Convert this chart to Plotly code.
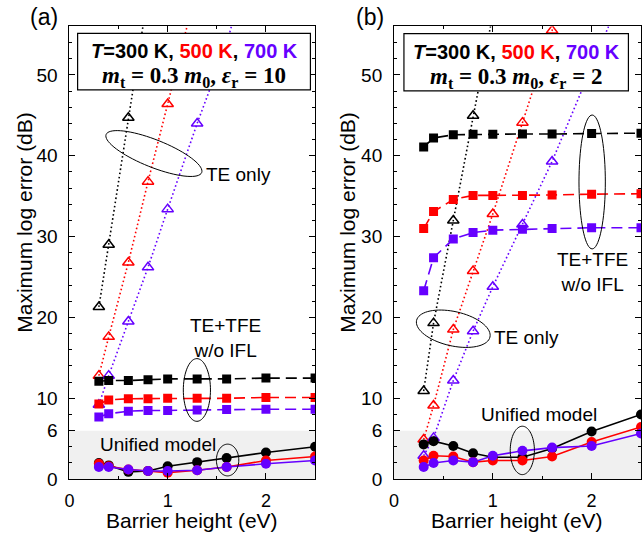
import math
import plotly.graph_objects as go

# ---------------- data ----------------
barrier = [0.3, 0.4, 0.6, 0.8, 1.0, 1.3, 1.6, 2.0, 2.5]

# panel (a): m_t = 0.3 m0, eps_r = 10
a_te_300_x = [0.3, 0.4, 0.6, 0.8]
a_te_300 = [21.3, 29.0, 44.7, 60.0]
a_te_500_x = [0.3, 0.4, 0.6, 0.8, 1.0, 1.3]
a_te_500 = [12.8, 17.6, 26.8, 36.8, 46.4, 61.0]
a_te_700_x = [0.3, 0.4, 0.6, 0.8, 1.0, 1.3, 1.6, 2.0]
a_te_700 = [9.2, 12.8, 19.5, 26.2, 33.4, 44.0, 53.8, 72.0]
a_tfe_300 = [12.1, 12.2, 12.2, 12.3, 12.4, 12.4, 12.4, 12.5, 12.5]
a_tfe_500 = [9.3, 9.8, 9.95, 9.95, 10.0, 10.0, 10.0, 10.1, 10.1]
a_tfe_700 = [7.7, 8.1, 8.4, 8.5, 8.5, 8.55, 8.6, 8.65, 8.65]
a_uni_300 = [2.0, 1.7, 0.9, 1.0, 1.6, 2.1, 2.6, 3.3, 4.0]
a_uni_500 = [1.9, 1.6, 1.2, 1.0, 0.8, 1.1, 1.5, 2.3, 2.8]
a_uni_700 = [1.5, 1.5, 1.2, 1.0, 1.0, 1.1, 1.5, 1.9, 2.3]

# panel (b): m_t = 0.3 m0, eps_r = 2
b_te_300_x = [0.3, 0.4, 0.6, 0.8, 1.0]
b_te_300 = [10.9, 19.3, 32.0, 44.95, 57.5]
b_te_500_x = [0.3, 0.4, 0.6, 0.8, 1.0, 1.3, 1.6, 2.0]
b_te_500 = [4.9, 9.1, 18.5, 25.75, 32.8, 44.1, 55.5, 75.0]
b_te_700_x = [0.3, 0.4, 0.6, 0.8, 1.0, 1.3, 1.6, 2.0, 2.5]
b_te_700 = [2.9, 5.1, 12.2, 18.3, 23.8, 31.5, 39.3, 51.0, 65.6]
b_tfe_300 = [41.1, 42.2, 42.6, 42.65, 42.65, 42.7, 42.7, 42.75, 42.8]
b_tfe_500 = [31.0, 33.1, 34.6, 35.1, 35.1, 35.1, 35.15, 35.25, 35.3]
b_tfe_700 = [23.3, 27.4, 29.7, 30.5, 30.8, 30.9, 31.0, 31.1, 31.1]
b_uni_300 = [4.3, 4.7, 4.1, 3.2, 2.7, 2.7, 3.8, 5.9, 8.0]
b_uni_500 = [2.3, 2.9, 2.8, 2.1, 2.3, 2.3, 2.8, 4.6, 6.45]
b_uni_700 = [1.5, 2.0, 2.3, 2.1, 2.9, 3.5, 3.9, 4.1, 5.65]

y_tickvals = [0, 6, 10, 20, 30, 40, 50]
x_tickvals = [0, 1, 2]

# ---------------- style ----------------
W, H = 642, 545
BLACK, RED, PURPLE = "#000000", "#FF0000", "#6600FF"
FONT = "Arial, Liberation Sans, sans-serif"
SERIF = "Liberation Serif, DejaVu Serif, serif"
AX = {"a": (65.0, 313.0), "b": (392.7, 642.0)}
Y_PX = (489.0, 27.0)
XR = (0.0, 2.5)
YR = (0.0, 56.0)


def px2data(panel, px, py):
    x0, x1 = AX[panel]
    x = XR[0] + (px - x0) / (x1 - x0) * (XR[1] - XR[0])
    y = YR[0] + (Y_PX[0] - py) / (Y_PX[0] - Y_PX[1]) * (YR[1] - YR[0])
    return x, y


def ellipse_path(panel, cx, cy, a, b, theta_deg=0.0, n=72):
    th = math.radians(theta_deg)
    pts = []
    for i in range(n):
        t = 2 * math.pi * i / n
        ex, ey = a * math.cos(t), b * math.sin(t)
        px = cx + ex * math.cos(th) - ey * math.sin(th)
        py = cy + ex * math.sin(th) + ey * math.cos(th)
        pts.append(px2data(panel, px, py))
    return "M " + " L ".join(f"{x:.5f},{y:.5f}" for x, y in pts) + " Z"


fig = go.Figure()


def add(xs, ys, color, kind, xa, ya):
    if kind == "te":
        fig.add_trace(go.Scatter(
            x=xs, y=ys, xaxis=xa, yaxis=ya, mode="lines+markers",
            line=dict(color=color, width=1.6, dash="1.6px,2.6px"),
            marker=dict(symbol="triangle-up-open", size=10, color=color,
                        line=dict(width=1.5, color=color)),
            cliponaxis=True, showlegend=False))
    elif kind == "tfe":
        fig.add_trace(go.Scatter(
            x=xs, y=ys, xaxis=xa, yaxis=ya, mode="lines+markers",
            line=dict(color=color, width=1.6, dash="11px,6px"),
            marker=dict(symbol="square", size=9, color=color),
            showlegend=False))
    else:
        fig.add_trace(go.Scatter(
            x=xs, y=ys, xaxis=xa, yaxis=ya, mode="lines+markers",
            line=dict(color=color, width=1.6),
            marker=dict(symbol="circle", size=10, color=color),
            showlegend=False))


# panel a
add(a_te_300_x, a_te_300, BLACK, "te", "x", "y")
add(a_te_500_x, a_te_500, RED, "te", "x", "y")
add(a_te_700_x, a_te_700, PURPLE, "te", "x", "y")
add(barrier, a_tfe_300, BLACK, "tfe", "x", "y")
add(barrier, a_tfe_500, RED, "tfe", "x", "y")
add(barrier, a_tfe_700, PURPLE, "tfe", "x", "y")
add(barrier, a_uni_300, BLACK, "uni", "x", "y")
add(barrier, a_uni_500, RED, "uni", "x", "y")
add(barrier, a_uni_700, PURPLE, "uni", "x", "y")
# panel b
add(b_te_300_x, b_te_300, BLACK, "te", "x2", "y2")
add(b_te_500_x, b_te_500, RED, "te", "x2", "y2")
add(b_te_700_x, b_te_700, PURPLE, "te", "x2", "y2")
add(barrier, b_tfe_300, BLACK, "tfe", "x2", "y2")
add(barrier, b_tfe_500, RED, "tfe", "x2", "y2")
add(barrier, b_tfe_700, PURPLE, "tfe", "x2", "y2")
add(barrier, b_uni_300, BLACK, "uni", "x2", "y2")
add(barrier, b_uni_500, RED, "uni", "x2", "y2")
add(barrier, b_uni_700, PURPLE, "uni", "x2", "y2")

y_minor = [v for v in range(2, 56, 2) if v not in y_tickvals]
x_minor = [0.5, 1.5, 2.5]

axis_common = dict(showline=True, linecolor="black", linewidth=1, mirror="allticks",
                   ticks="inside", ticklen=6, tickwidth=1, tickcolor="black",
                   showgrid=False, zeroline=False,
                   tickfont=dict(family=FONT, size=18, color="black"))
xcommon = dict(axis_common, range=list(XR), tickvals=x_tickvals,
               ticktext=[str(v) for v in x_tickvals], ticklabelstandoff=5,
               minor=dict(tickvals=x_minor, ticks="inside", ticklen=3, tickcolor="black", showgrid=False))
ycommon = dict(axis_common, range=list(YR), tickvals=y_tickvals,
               ticktext=[str(v) for v in y_tickvals], ticklabelstandoff=7,
               tickfont=dict(family=FONT, size=19, color="black"),
               minor=dict(tickvals=y_minor, ticks="inside", ticklen=3, tickcolor="black", showgrid=False))

ydom = [1 - Y_PX[0] / H, 1 - Y_PX[1] / H]
fig.update_layout(
    width=W, height=H, margin=dict(l=0, r=0, t=0, b=0),
    paper_bgcolor="white", plot_bgcolor="white",
    xaxis=dict(xcommon, domain=[AX["a"][0] / W, AX["a"][1] / W], anchor="y"),
    yaxis=dict(ycommon, domain=ydom, anchor="x"),
    xaxis2=dict(xcommon, domain=[AX["b"][0] / W, min(1.0, AX["b"][1] / W)], anchor="y2"),
    yaxis2=dict(ycommon, domain=ydom, anchor="x2"),
)

shapes = []
# gray band 0..6
for xr, yr in (("x", "y"), ("x2", "y2")):
    shapes.append(dict(type="rect", xref=f"{xr} domain", yref=yr, x0=0, x1=1, y0=0, y1=6,
                       fillcolor="#F0F0F0", line=dict(width=0), layer="below"))

# ellipses
ell = [
    ("a", 150.3, 156.7, 52, 14, 22, "x", "y"),
    ("a", 193.7, 398.0, 13.7, 32, 0, "x", "y"),
    ("a", 224.7, 469.5, 11.3, 16.2, 0, "x", "y"),
    ("b", 592.7, 185.7, 13.3, 68.3, 0, "x2", "y2"),
    ("b", 452.5, 335.5, 38, 17.5, 13, "x2", "y2"),
    ("b", 522.2, 459.7, 12.2, 24.7, 0, "x2", "y2"),
]
for panel, cx, cy, a, b, th, xr, yr in ell:
    shapes.append(dict(type="path", xref=xr, yref=yr, path=ellipse_path(panel, cx, cy, a, b, th),
                       line=dict(color="black", width=1), layer="above"))

# info boxes
for x0, x1, y0, y1 in ((73.3, 308.3, 34.0, 91.7), (402.7, 629.3, 34.3, 92.7)):
    shapes.append(dict(type="rect", xref="paper", yref="paper",
                       x0=x0 / W, x1=x1 / W, y0=1 - y1 / H, y1=1 - y0 / H,
                       fillcolor="white", line=dict(color="black", width=1.2), layer="above"))
fig.update_layout(shapes=shapes)


def ann(text, px, py, size=19, family=FONT, color="black", xanchor="center", angle=0):
    fig.add_annotation(text=text, x=px / W, y=1 - py / H, xref="paper", yref="paper",
                       showarrow=False, xanchor=xanchor, yanchor="middle", textangle=angle,
                       font=dict(family=family, size=size, color=color))


line1 = ("<b><i>T</i>=300 K, <span style='color:#FF0000'>500 K</span>, "
         "<span style='color:#6600FF'>700 K</span></b>")
ann(line1, 190.8, 52.3, size=20)
ann("<b><i>m</i><sub>t</sub> = 0.3 <i>m</i><sub>0</sub>, <i>ε</i><sub>r</sub> = 10</b>",
    190.8, 79.0, size=23, family=SERIF)
ann(line1, 516.0, 52.8, size=20)
ann("<b><i>m</i><sub>t</sub> = 0.3 <i>m</i><sub>0</sub>, <i>ε</i><sub>r</sub> = 2</b>",
    516.0, 79.5, size=23, family=SERIF)

# panel labels
ann("(a)", 39, 17.5, size=23)
ann("(b)", 368, 17.0, size=23)

# region labels
ann("TE only", 235.3, 178.0)
ann("TE+TFE<br>w/o IFL", 223.0, 345.0)
ann("Unified model", 154.0, 454.0)
ann("TE only", 526.2, 344.2)
ann("TE+TFE<br>w/o IFL", 593.5, 278.0)
ann("Unified model", 539.3, 423.3)

# axis titles
ann("Maximum log error (dB)", 20, 226.5, size=21, angle=-90)
ann("Maximum log error (dB)", 346, 226.5, size=21, angle=-90)
ann("Barrier height (eV)", 189.0, 531.0, size=21)
ann("Barrier height (eV)", 517.0, 531.0, size=21)

fig.write_html("out.html")
